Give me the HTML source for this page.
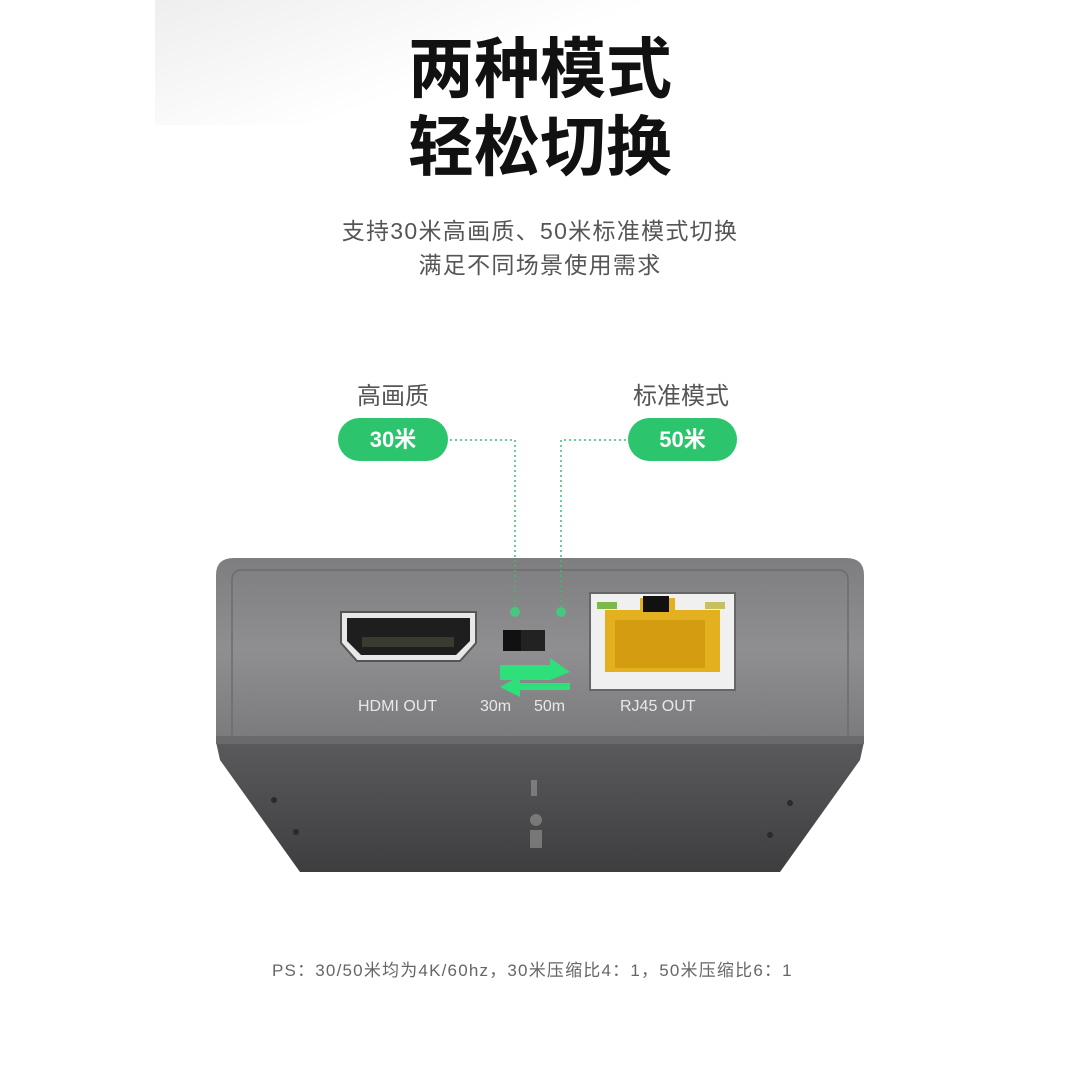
<!DOCTYPE html>
<html><head><meta charset="utf-8"><style>
*{margin:0;padding:0;box-sizing:border-box}
body{width:1080px;height:1080px;background:#fff;position:relative;overflow:hidden;font-family:"Liberation Sans","Noto Sans CJK SC",sans-serif}
.t{position:absolute;left:0;width:1080px;text-align:center;white-space:nowrap}
.a{position:absolute;white-space:nowrap}
</style></head><body>
<div style="position:absolute;left:155px;top:0;width:500px;height:125px;background:linear-gradient(160deg,#eeeeee,#fff 60%)"></div>
<div class="t" style="top:30px;font-size:66px;font-weight:bold;color:#111;line-height:78px">两种模式</div>
<div class="t" style="top:108px;font-size:66px;font-weight:bold;color:#111;line-height:78px">轻松切换</div>
<div class="t" style="top:215px;font-size:23px;color:#555;line-height:32px;letter-spacing:1.3px">支持30米高画质、50米标准模式切换</div>
<div class="t" style="top:249px;font-size:23px;color:#555;line-height:32px;letter-spacing:1.3px">满足不同场景使用需求</div>
<div class="a" style="left:357px;top:376px;font-size:24px;color:#555">高画质</div>
<div class="a" style="left:633px;top:376px;font-size:24px;color:#555">标准模式</div>
<div class="a" style="left:338px;top:418px;width:110px;height:43px;border-radius:22px;background:#2cc46d;color:#fff;font-weight:bold;font-size:22px;text-align:center;line-height:43px">30米</div>
<div class="a" style="left:628px;top:418px;width:109px;height:43px;border-radius:22px;background:#2cc46d;color:#fff;font-weight:bold;font-size:22px;text-align:center;line-height:43px">50米</div>
<svg width="1080" height="1080" style="position:absolute;left:0;top:0">
<defs>
<linearGradient id="f" x1="0" y1="0" x2="0" y2="1"><stop offset="0" stop-color="#7e7e80"/><stop offset="0.5" stop-color="#8f8f91"/><stop offset="1" stop-color="#7a7a7c"/></linearGradient>
<linearGradient id="b" x1="0" y1="0" x2="0" y2="1"><stop offset="0" stop-color="#5a5a5c"/><stop offset="1" stop-color="#3e3e40"/></linearGradient>
</defs>
<path d="M216 742 L864 742 L860 760 L780 872 L300 872 L220 760 Z" fill="url(#b)"/>
<path d="M216 742 L216 575 Q216 558 234 558 L846 558 Q864 558 864 575 L864 742 Z" fill="url(#f)"/>
<path d="M232 742 L232 580 Q232 570 242 570 L838 570 Q848 570 848 580 L848 742" fill="none" stroke="#6c6c6e" stroke-width="1.5"/>
<rect x="216" y="736" width="648" height="8" fill="#6a6a6c"/>
<g fill="#2a2a2a"><circle cx="274" cy="800" r="3"/><circle cx="296" cy="832" r="3"/><circle cx="790" cy="803" r="3"/><circle cx="770" cy="835" r="3"/></g>
<g fill="#999" opacity="0.6"><rect x="531" y="780" width="6" height="16"/><circle cx="536" cy="820" r="6"/><rect x="530" y="830" width="12" height="18"/></g>
<polyline points="450,440 515,440 515,612" fill="none" stroke="#3fb873" stroke-width="1.5" stroke-dasharray="2,3"/>
<polyline points="626,440 561,440 561,612" fill="none" stroke="#3fb873" stroke-width="1.5" stroke-dasharray="2,3"/>
<circle cx="515" cy="612" r="5" fill="#2ee07a" opacity="0.7"/>
<circle cx="561" cy="612" r="5" fill="#2ee07a" opacity="0.7"/>
<path d="M341 612 L476 612 L476 643 L460 661 L357 661 L341 643 Z" fill="#e8e8e8" stroke="#555" stroke-width="2"/>
<path d="M347 618 L470 618 L470 641 L456 655 L361 655 L347 641 Z" fill="#1e1e1e"/>
<rect x="362" y="637" width="92" height="10" fill="#3a3a30"/>
<rect x="503" y="630" width="42" height="21" fill="#222"/>
<rect x="503" y="630" width="18" height="21" fill="#111"/>
<path d="M500 665 L550 665 L550 658 L570 672 L550 680 L500 680 Z" fill="#2ee07a"/>
<path d="M570 683 L520 683 L520 676 L500 687 L520 697 L520 690 L570 690 Z" fill="#2ee07a"/>
<rect x="590" y="593" width="145" height="97" fill="#f0f0f0" stroke="#666" stroke-width="2"/>
<path d="M605 610 L640 610 L640 598 L675 598 L675 610 L720 610 L720 672 L605 672 Z" fill="#e3b020"/>
<rect x="615" y="620" width="90" height="48" fill="#d49c10"/>
<rect x="643" y="596" width="26" height="16" fill="#111"/>
<rect x="597" y="602" width="20" height="7" fill="#7cb84a"/>
<rect x="705" y="602" width="20" height="7" fill="#c8c060"/>
</svg>
<div class="a" style="left:358px;top:698px;font-size:16px;color:#e8e8e8">HDMI OUT</div>
<div class="a" style="left:480px;top:698px;font-size:16px;color:#e8e8e8">30m</div>
<div class="a" style="left:534px;top:698px;font-size:16px;color:#e8e8e8">50m</div>
<div class="a" style="left:620px;top:698px;font-size:16px;color:#e8e8e8">RJ45 OUT</div>
<div class="a" style="left:272px;top:956px;font-size:17px;color:#666;letter-spacing:1.2px">PS：30/50米均为4K/60hz，30米压缩比4：1，50米压缩比6：1</div>
</body></html>
